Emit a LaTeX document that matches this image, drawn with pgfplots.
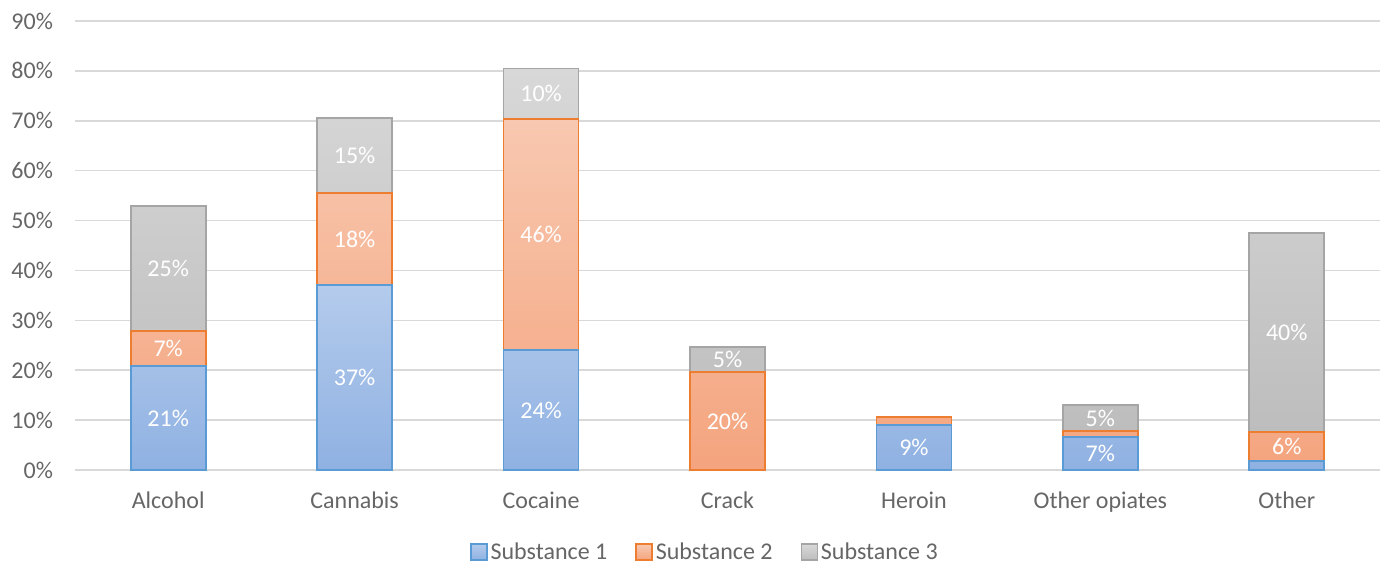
\documentclass[border=0pt]{standalone}
\usepackage{pgfplots}
\usepackage{pgfplotstable}
\pgfplotsset{compat=1.18}
\usepackage{fontspec}
\setmainfont{Carlito}

\definecolor{labgray}{HTML}{666666}
\definecolor{gridgray}{HTML}{D9D9D9}
\definecolor{blueedge}{HTML}{5B9BD5}
\definecolor{bluetop}{RGB}{180,203,236}
\definecolor{bluebot}{RGB}{143,177,226}
\definecolor{orangeedge}{HTML}{ED7D31}
\definecolor{orangetop}{RGB}{248,200,176}
\definecolor{orangebot}{RGB}{244,164,126}
\definecolor{grayedge}{HTML}{A5A5A5}
\definecolor{graytop}{RGB}{216,216,216}
\definecolor{graybot}{RGB}{189,189,189}

% share of clients per substance, in percent
\pgfplotstableread{
x   S1    S2    S3
0   20.8  7.1   25.0
1   37.1  18.4  15.0
2   24.0  46.4  10.1
3   0.0   19.6  5.0
4   9.0   1.6   0.0
5   6.6   1.2   5.2
6   1.8   5.8   39.9
}\datatable

\begin{document}
\begin{tikzpicture}
\begin{axis}[
  at={(0,0)}, anchor=south west,
  scale only axis,
  width=978.75pt, height=336.75pt,
  ybar stacked,
  bar width=56.25pt,
  xmin=-0.5, xmax=6.5,
  ymin=0, ymax=90,
  xtick={0,...,6},
  xticklabels={Alcohol,Cannabis,Cocaine,Crack,Heroin,Other opiates,Other},
  ytick={0,10,...,90},
  yticklabel={\pgfmathprintnumber{\tick}\%},
  /pgf/number format/assume math mode=true,
  axis line style={draw=none},
  major tick length=0pt,
  ymajorgrids,
  grid style={gridgray, line width=1.1pt},
  tick label style={font=\fontsize{18}{21}\selectfont, text=labgray},
  yticklabel style={xshift=-13pt},
  xticklabel style={yshift=-13pt},
  legend columns=3,
  legend style={at={(0.483,-0.183)}, anchor=center, draw=none,
    font=\fontsize{18}{21}\selectfont, text=labgray,
    /tikz/every even column/.append style={column sep=19pt}},
  legend image code/.code={\path[#1] (0pt,-6pt) rectangle (12pt,6pt);},
  % value labels inside the segments, hidden for thin segments
  nodes near coords={\ifdim\rawy pt>3pt\pgfmathprintnumber[fixed,precision=0]{\rawy}\%\fi},
  every node near coord/.append style={font=\fontsize{18}{21}\selectfont,
    text=white, anchor=center},
]
\addplot[draw=blueedge, line width=1.3pt, top color=bluetop, bottom color=bluebot,
  visualization depends on={\thisrow{S1} \as \rawy}]
  table[x=x, y=S1] {\datatable};
\addplot[draw=orangeedge, line width=1.3pt, top color=orangetop, bottom color=orangebot,
  visualization depends on={\thisrow{S2} \as \rawy}]
  table[x=x, y=S2] {\datatable};
\addplot[draw=grayedge, line width=1.3pt, top color=graytop, bottom color=graybot,
  visualization depends on={\thisrow{S3} \as \rawy}]
  table[x=x, y=S3] {\datatable};
\legend{Substance 1, Substance 2, Substance 3}
\draw[gridgray, line width=1.1pt] (axis cs:-0.5,0) -- (axis cs:6.5,0);
\end{axis}
\pgfresetboundingbox
\path[use as bounding box] (-56.25pt,-71.25pt) rectangle (985.5pt,352.5pt);
\end{tikzpicture}
\end{document}
